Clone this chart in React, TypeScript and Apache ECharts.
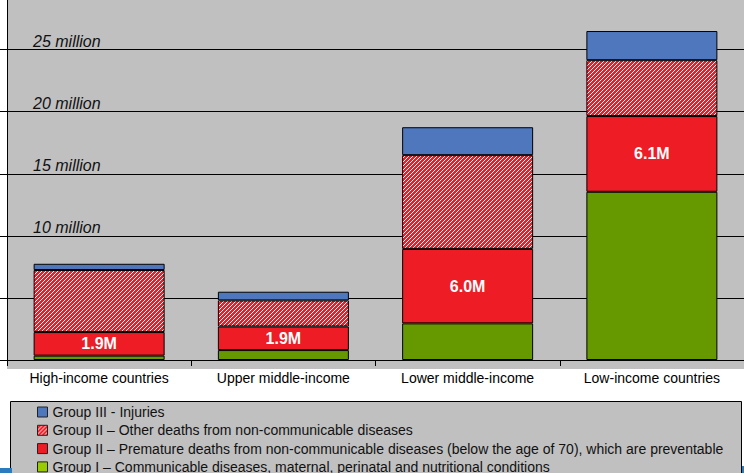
import React, { useEffect, useRef } from "react";
import * as echarts from "echarts";

const categories = [
  "High-income countries",
  "Upper middle-income",
  "Lower middle-income",
  "Low-income countries",
];
// values in millions of deaths
const groupI = [0.35, 0.8, 2.95, 13.55];
const premature = [1.9, 1.9, 6.0, 6.1];
const otherNcd = [5.0, 2.1, 7.55, 4.5];
const injuries = [0.5, 0.7, 2.25, 2.35];
const seriesNames = [
  "Group I – Communicable diseases, maternal, perinatal and nutritional conditions",
  "Group II – Premature deaths from non-communicable diseases (below the age of 70), which are preventable",
  "Group II – Other deaths from non-communicable diseases",
  "Group III - Injuries",
];
const yLabelTicks = [10, 15, 20, 25];

const FONT = "'Liberation Sans', Arial, sans-serif";
const BLUE = "#4f77bd";
const RED = "#ee1c25";
const GREEN = "#669900";
const LEGEND_GREEN = "#99cc00";
const OFF = 20; // chart canvas extends 20px above the page top
const BOT = 30; // and 30px below the page bottom

function makeHatch(): HTMLCanvasElement {
  const c = document.createElement("canvas");
  c.width = 4;
  c.height = 4;
  const ctx = c.getContext("2d")!;
  ctx.fillStyle = RED;
  ctx.fillRect(0, 0, 4, 4);
  ctx.fillStyle = "#ffffff";
  for (let y = 0; y < 4; y++) {
    for (let x = 0; x < 4; x++) {
      if ((x + y) % 4 === 0) ctx.fillRect(x, y, 1, 1);
    }
  }
  return c;
}

export default function App() {
  const ref = useRef<HTMLDivElement>(null);
  useEffect(() => {
    if (!ref.current) return;
    const chart = echarts.init(ref.current, undefined, { renderer: "svg" });
    const border = { borderColor: "#000", borderWidth: 1 };
    const hatch = { image: makeHatch(), repeat: "repeat" };
    chart.setOption({
      animation: false,
      textStyle: { fontFamily: FONT },
      grid: { left: 7, right: 0, top: OFF - 12.43, bottom: 113 + BOT, containLabel: false },
      graphic: [
        {
          type: "rect",
          z: -10,
          shape: { x: 7, y: OFF, width: 737, height: 369 },
          style: { fill: "#c0c0c0" },
        },
        {
          type: "rect",
          z: -10,
          shape: { x: 10.5, y: OFF + 401.5, width: 731, height: 100 },
          style: { fill: "#c0c0c0", stroke: "#000", lineWidth: 1 },
        },
        {
          type: "rect",
          shape: { x: 0, y: OFF + 468, width: 12, height: 5 },
          style: { fill: "#2b7bbf" },
        },
        {
          type: "rect",
          shape: { x: 742, y: OFF + 466, width: 2, height: 7 },
          style: { fill: "#2b7bbf" },
        },
      ],
      legend: {
        orient: "vertical",
        left: 37,
        top: OFF + 405,
        height: 90,
        padding: 0,
        itemWidth: 10,
        itemHeight: 10,
        itemGap: 4.3,
        itemTextGap: 3,
        icon: "rect",
        itemStyle: { borderColor: "#222", borderWidth: 1 },
        textStyle: { fontSize: 14, color: "#111", fontFamily: FONT },
        data: [
          { name: seriesNames[3] },
          { name: seriesNames[2] },
          { name: seriesNames[1] },
          { name: seriesNames[0], itemStyle: { color: LEGEND_GREEN, borderColor: "#222", borderWidth: 1 } },
        ],
      },
      xAxis: {
        type: "category",
        data: categories,
        axisLine: { show: true, lineStyle: { color: "#000", width: 1 } },
        axisTick: { show: true, length: 6, lineStyle: { color: "#000" } },
        axisLabel: { interval: 0, fontSize: 14, color: "#000", margin: 11, fontFamily: FONT },
      },
      yAxis: {
        type: "value",
        min: 0,
        max: 30,
        interval: 5,
        axisLine: { show: true, lineStyle: { color: "#000", width: 1 } },
        axisTick: { show: true, inside: false, length: 7, lineStyle: { color: "#000" } },
        splitLine: { show: true, lineStyle: { color: "#000", width: 1 } },
        axisLabel: {
          inside: true,
          margin: 26,
          verticalAlign: "bottom",
          fontStyle: "italic",
          fontSize: 16,
          color: "#111",
          fontFamily: FONT,
          formatter: (v: number) => (yLabelTicks.includes(v) ? v + " million" : ""),
        },
      },
      series: [
        {
          name: seriesNames[0],
          type: "bar",
          stack: "total",
          barWidth: 131,
          data: groupI,
          itemStyle: { color: GREEN, ...border },
        },
        {
          name: seriesNames[1],
          type: "bar",
          stack: "total",
          barWidth: 131,
          data: premature,
          itemStyle: { color: RED, ...border },
          label: {
            show: true,
            position: "inside",
            color: "#fff",
            fontWeight: "bold",
            fontSize: 16,
            fontFamily: FONT,
            formatter: (p: any) => p.value.toFixed(1) + "M",
          },
        },
        {
          name: seriesNames[2],
          type: "bar",
          stack: "total",
          barWidth: 131,
          data: otherNcd,
          itemStyle: { color: hatch, ...border },
        },
        {
          name: seriesNames[3],
          type: "bar",
          stack: "total",
          barWidth: 131,
          data: injuries,
          itemStyle: { color: BLUE, ...border },
        },
      ],
    });
    return () => chart.dispose();
  }, []);
  return (
    <div style={{ position: "absolute", left: 0, top: 0, width: 744, height: 473, overflow: "hidden" }}>
      <div ref={ref} style={{ position: "absolute", left: 0, top: -OFF, width: 744, height: 473 + OFF + BOT }} />
    </div>
  );
}
